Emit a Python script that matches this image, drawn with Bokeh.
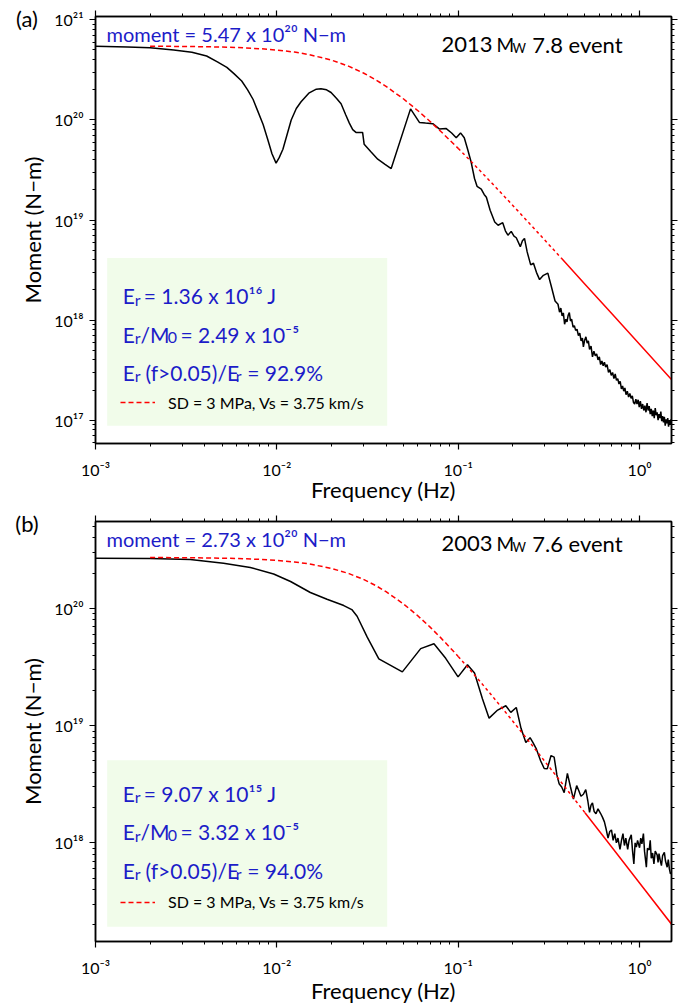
import numpy as np
from bokeh.plotting import figure
from bokeh.models import (Range1d, LogAxis, FixedTicker, CustomJSTickFormatter, Label,
                          BoxAnnotation, Legend, LegendItem)
from bokeh.core.properties import value
from bokeh.layouts import column
from bokeh.embed import file_html
from bokeh.resources import INLINE

FONT = "Lato"
BLUE = "#1c1cc8"
BOXFILL = "#f1fcea"

# ---------------- data: panel (a) 2013 Mw 7.8 ----------------
FREQ_A = [0.001, 0.0015, 0.002, 0.0027, 0.0034, 0.0041, 0.0047, 0.0053, 0.0058, 0.0064,
          0.0069, 0.0074, 0.0078, 0.0084, 0.0089, 0.0094, 0.0099, 0.0103, 0.0108, 0.0114,
          0.0120, 0.0128, 0.0136, 0.0150, 0.0165, 0.0175, 0.0188, 0.0199, 0.0213, 0.0226,
          0.0240, 0.0251, 0.0262, 0.0273, 0.0297, 0.0303, 0.0330, 0.0360, 0.0395, 0.0427,
          0.0546, 0.0611, 0.0660, 0.0724, 0.0786, 0.0859, 0.0920, 0.0975, 0.1030, 0.1080,
          0.1130, 0.1180, 0.1230, 0.1270, 0.1340, 0.1390, 0.1430, 0.1500, 0.1590, 0.1660,
          0.1760, 0.1820, 0.1880, 0.1960, 0.2030, 0.2090, 0.2200, 0.2260, 0.2320, 0.2400,
          0.2510, 0.2600, 0.2700, 0.2810, 0.2950, 0.3120, 0.3260, 0.3420,
          0.355, 0.362, 0.368, 0.374, 0.380, 0.386, 0.392, 0.398, 0.404, 0.410,
          0.416, 0.422, 0.430, 0.437, 0.444, 0.452, 0.460, 0.468, 0.476, 0.484,
          0.490, 0.498, 0.506, 0.514, 0.522, 0.530, 0.540, 0.550, 0.560, 0.570,
          0.580, 0.590, 0.600, 0.610, 0.620, 0.630, 0.640, 0.650, 0.662, 0.674,
          0.686, 0.698, 0.710, 0.722, 0.734, 0.746, 0.758, 0.770, 0.782, 0.794,
          0.806, 0.818, 0.830, 0.842, 0.856, 0.870, 0.884, 0.898, 0.912, 0.926,
          0.940, 0.954, 0.968, 0.982, 0.996, 1.010, 1.025, 1.040, 1.055, 1.070,
          1.085, 1.100, 1.115, 1.130, 1.145, 1.160, 1.175, 1.190, 1.205, 1.220,
          1.235, 1.250, 1.265, 1.280, 1.295, 1.310, 1.325, 1.340, 1.355, 1.370,
          1.385, 1.400, 1.415, 1.430, 1.445, 1.460, 1.475, 1.490, 1.500]
MOMENT_A = [5.45e20, 5.35e20, 5.25e20, 5.0e20, 4.75e20, 4.35e20, 3.8e20, 3.35e20, 2.9e20, 2.45e20,
            2.0e20, 1.6e20, 1.26e20, 9.0e19, 6.4e19, 4.6e19, 3.7e19, 4.2e19, 5.1e19, 7.2e19,
            1.0e20, 1.3e20, 1.52e20, 1.85e20, 2.03e20, 2.05e20, 2.0e20, 1.88e20, 1.65e20, 1.45e20,
            1.12e20, 9.3e19, 8.0e19, 7.5e19, 7.5e19, 5.7e19, 4.8e19, 4.05e19, 3.6e19, 3.27e19,
            1.29e20, 9.45e19, 9.3e19, 9.17e19, 8.13e19, 8.2e19, 7.4e19, 6.63e19, 7.42e19, 6.63e19,
            5.0e19, 3.75e19, 2.6e19, 2.17e19, 2.04e19, 1.8e19, 1.69e19, 1.25e19, 9.57e18, 8.87e18,
            9.4e18, 7.8e18, 7.06e18, 7.7e18, 6.9e18, 6.65e18, 5.42e18, 6.2e18, 6.55e18, 4.8e18,
            3.56e18, 3.7e18, 3.0e18, 2.54e18, 2.8e18, 2.95e18, 2.18e18, 1.55e18,
            1.44e18, 1.20e18, 1.32e18, 1.10e18, 1.18e18, 9.1e17, 1.02e18, 9.6e17, 1.12e18, 1.19e18,
            9.8e17, 1.02e18, 8.5e17, 8.8e17, 7.9e17, 8.1e17, 7.0e17, 7.4e17, 6.2e17, 6.6e17,
            5.4e17, 6.3e17, 6.8e17, 5.9e17, 6.2e17, 5.1e17, 5.5e17, 4.3e17, 4.9e17, 4.4e17,
            4.6e17, 4.0e17, 4.3e17, 3.6e17, 3.9e17, 3.5e17, 3.8e17, 3.4e17, 3.6e17, 3.0e17,
            3.2e17, 2.8e17, 3.0e17, 2.6e17, 2.9e17, 2.5e17, 2.6e17, 2.3e17, 2.45e17, 2.05e17,
            2.2e17, 1.95e17, 2.1e17, 1.8e17, 1.95e17, 1.7e17, 1.85e17, 1.65e17, 1.75e17, 1.5e17,
            1.45e17, 1.62e17, 1.45e17, 1.6e17, 1.35e17, 1.55e17, 1.3e17, 1.45e17, 1.25e17, 1.4e17,
            1.2e17, 1.48e17, 1.25e17, 1.38e17, 1.15e17, 1.3e17, 1.1e17, 1.25e17, 1.05e17, 1.32e17,
            1.12e17, 1.2e17, 1.0e17, 1.15e17, 1.05e17, 1.22e17, 9.8e16, 1.1e17, 9.5e16, 1.08e17,
            8.8e16, 1.02e17, 9.3e16, 1.05e17, 8.6e16, 1.0e17, 9.0e16, 1.02e17, 9.5e16]

# model spectrum (SD = 3 MPa, Vs = 3.75 km/s)
RED_F = [0.002, 0.003, 0.004, 0.005, 0.006, 0.008, 0.010, 0.0125, 0.015, 0.020,
         0.025, 0.030, 0.035, 0.040, 0.050, 0.060, 0.070, 0.080, 0.100, 0.120,
         0.150, 0.200, 0.250, 0.300, 0.370, 0.500, 0.700, 1.000, 1.500]
RED_M_A = [5.449e20, 5.424e20, 5.388e20, 5.343e20, 5.289e20, 5.156e20, 4.994e20, 4.761e20, 4.505e20, 3.961e20,
           3.429e20, 2.945e20, 2.524e20, 2.167e20, 1.618e20, 1.235e20, 9.651e19, 7.708e19, 5.197e19, 3.717e19,
           2.438e19, 1.399e19, 9.036e18, 6.307e18, 4.163e18, 2.287e18, 1.169e18, 5.736e17, 2.551e17]

# ---------------- data: panel (b) 2003 Mw 7.6 ----------------
FREQ_B = [0.001, 0.002, 0.00333, 0.00508, 0.00714, 0.0096, 0.0119, 0.0153, 0.0189, 0.0234,
          0.0259, 0.0277, 0.0315, 0.0365, 0.0492, 0.0621, 0.0735, 0.0853, 0.0998, 0.1125,
          0.123, 0.136, 0.148, 0.165, 0.183, 0.195, 0.209, 0.222, 0.236, 0.249,
          0.258, 0.270, 0.285, 0.298, 0.310, 0.325, 0.338, 0.350, 0.360, 0.372,
          0.384, 0.400, 0.416, 0.432, 0.450, 0.462, 0.475, 0.490, 0.505, 0.518,
          0.530, 0.540, 0.550, 0.562, 0.575, 0.590, 0.610, 0.625, 0.640, 0.655,
          0.670, 0.685, 0.700, 0.715, 0.730, 0.745, 0.760, 0.780, 0.795, 0.810,
          0.825, 0.840, 0.860, 0.875, 0.900, 0.915, 0.930, 0.945, 0.960, 0.975,
          1.000, 1.015, 1.030, 1.050, 1.065, 1.090, 1.105, 1.130, 1.145, 1.160,
          1.180, 1.200, 1.220, 1.250, 1.265, 1.280, 1.300, 1.320, 1.340, 1.370,
          1.390, 1.420, 1.440, 1.460, 1.480, 1.500]
MOMENT_B = [2.68e20, 2.67e20, 2.62e20, 2.43e20, 2.24e20, 1.97e20, 1.70e20, 1.37e20, 1.20e20, 1.06e20,
            9.8e19, 8.6e19, 5.7e19, 3.72e19, 2.88e19, 4.55e19, 5.0e19, 3.76e19, 2.61e19, 3.31e19,
            2.82e19, 1.70e19, 1.16e19, 1.36e19, 1.48e19, 1.30e19, 1.43e19, 9.5e18, 7.18e18, 7.9e18,
            7.2e18, 6.3e18, 5.0e18, 4.31e18, 4.3e18, 5.56e18, 5.4e18, 3.8e18, 3.2e18, 3.0e18,
            2.68e18, 3.92e18, 3.0e18, 2.36e18, 3.08e18, 2.8e18, 2.5e18, 2.6e18, 2.85e18, 2.3e18,
            1.82e18, 2.1e18, 2.19e18, 1.85e18, 1.77e18, 1.95e18, 1.78e18, 1.65e18, 1.51e18, 1.3e18,
            1.1e18, 1.25e18, 1.29e18, 1.05e18, 1.2e18, 1.0e18, 1.1e18, 8.8e17, 1.05e18, 1.2e18,
            9.5e17, 1.1e18, 8.8e17, 1.05e18, 1.17e18, 8.5e17, 6.6e17, 1.0e18, 9.2e17, 1.05e18,
            9.1e17, 1.1e18, 9.8e17, 1.2e18, 8.5e17, 6.2e17, 9.0e17, 8.7e17, 1.05e18, 7.4e17,
            8.2e17, 6.6e17, 8.5e17, 7.9e17, 6.8e17, 8.1e17, 7.1e17, 6.4e17, 7.8e17, 8.3e17,
            7.0e17, 6.2e17, 7.2e17, 6.0e17, 5.45e17, 5.6e17]
RED_M_B = [2.7235e20, 2.715e20, 2.704e20, 2.690e20, 2.672e20, 2.629e20, 2.576e20, 2.496e20, 2.406e20, 2.202e20,
           1.986e20, 1.774e20, 1.574e20, 1.394e20, 1.093e20, 8.646e19, 6.935e19, 5.646e19, 3.904e19, 2.835e19,
           1.885e19, 1.093e19, 7.099e18, 4.970e18, 3.288e18, 1.810e18, 9.265e17, 4.548e17, 2.023e17]

X_RANGE = (1e-3, 1.5)
Y_RANGE_A = (5.85e16, 1.08e21)
Y_RANGE_B = (1.44e17, 5.53e20)

MAJOR_X = [1e-3, 1e-2, 1e-1, 1.0]
MINOR_X = [k * 10.0 ** d for d in range(-3, 1) for k in range(2, 10)]
MAJOR_Y = [10.0 ** e for e in range(16, 22)]
MINOR_Y = [k * 10.0 ** d for d in range(16, 21) for k in range(2, 10)]

LEGEND_TEXT = "SD = 3 MPa, Vs = 3.75 km/s"

SUP_JS = """
const m = {"-":"\u207b","0":"\u2070","1":"\u00b9","2":"\u00b2","3":"\u00b3","4":"\u2074",
           "5":"\u2075","6":"\u2076","7":"\u2077","8":"\u2078","9":"\u2079"};
const e = Math.round(Math.log10(tick));
return "10" + String(e).split("").map(c => m[c]).join("");
"""


def style_axis(ax, labels=True):
    ax.axis_line_width = 1.5
    ax.axis_line_color = "black"
    ax.major_tick_out = 6
    ax.major_tick_in = 0
    ax.minor_tick_out = 3
    ax.minor_tick_in = 0
    ax.major_tick_line_width = 1.2
    ax.minor_tick_line_width = 1
    ax.major_tick_line_color = "black"
    ax.minor_tick_line_color = "black"
    if labels:
        ax.major_label_text_font = FONT
        ax.major_label_text_font_size = "16px"
        ax.major_label_text_color = "black"
        ax.axis_label_text_font = FONT
        ax.axis_label_text_font_size = "22px"
        ax.axis_label_text_font_style = "normal"
        ax.axis_label_text_color = "black"
    else:
        ax.major_label_text_font_size = "1px"
        ax.major_label_text_alpha = 0.0
        ax.major_label_standoff = 0


def label(p, fh, s, dx, dy, size, color="black", baseline="alphabetic", align="left"):
    p.add_layout(Label(x=dx, y=fh - dy, x_units="screen", y_units="screen", text=s,
                       text_font=FONT, text_font_size=f"{size}px", text_color=color,
                       text_align=align, text_baseline=baseline))


def make_panel(cfg):
    fh = 432
    yr = cfg["yrange"]
    p = figure(width=682, height=cfg["height"], x_axis_type="log", y_axis_type="log",
               x_range=Range1d(*X_RANGE), y_range=Range1d(*yr),
               output_backend="svg", toolbar_location=None,
               min_border_left=95, min_border_right=11,
               min_border_top=16, min_border_bottom=cfg["height"] - 16 - fh)
    p.grid.visible = False
    p.outline_line_color = "black"
    p.outline_line_width = 1.5
    p.background_fill_color = "white"
    p.border_fill_color = "white"

    fmt = CustomJSTickFormatter(code=SUP_JS)
    p.xaxis.ticker = FixedTicker(ticks=MAJOR_X, minor_ticks=MINOR_X)
    p.yaxis.ticker = FixedTicker(ticks=MAJOR_Y, minor_ticks=MINOR_Y)
    p.xaxis.formatter = fmt
    p.yaxis.formatter = fmt
    p.xaxis.axis_label = "Frequency (Hz)"
    p.yaxis.axis_label = "Moment (N\u2212m)"
    for ax in p.xaxis + p.yaxis:
        style_axis(ax)
    p.xaxis.major_label_standoff = 10
    p.xaxis.axis_label_standoff = cfg["xlab_standoff"]
    p.yaxis.major_label_standoff = 6
    p.yaxis.axis_label_standoff = 5

    top = LogAxis(ticker=FixedTicker(ticks=MAJOR_X, minor_ticks=MINOR_X))
    style_axis(top, labels=False)
    p.add_layout(top, "above")
    right = LogAxis(ticker=FixedTicker(ticks=MAJOR_Y, minor_ticks=MINOR_Y))
    style_axis(right, labels=False)
    p.add_layout(right, "right")

    # info box
    p.add_layout(BoxAnnotation(left=11.7, right=291.7, top=fh - cfg["box_top"], bottom=fh - cfg["box_bot"],
                               left_units="screen", right_units="screen",
                               top_units="screen", bottom_units="screen",
                               fill_color=BOXFILL, fill_alpha=1.0, line_alpha=0.0, level="underlay"))

    # observed spectrum
    p.line(cfg["freq"], cfg["mom"], line_color="black", line_width=1.5)

    # model spectrum
    rf = np.array(RED_F)
    rm = np.array(cfg["red"])
    s1 = rf <= 0.1
    s2 = (rf >= 0.1) & (rf <= cfg["solid_from"])
    s3 = rf >= cfg["solid_from"]
    r1 = p.line(rf[s1], rm[s1], line_color="red", line_width=1.5, line_dash="5 3")
    p.line(rf[s2], rm[s2], line_color="red", line_width=1.5, line_dash="3 3")
    p.line(rf[s3], rm[s3], line_color="red", line_width=1.5)

    leg = Legend(items=[LegendItem(label=value(LEGEND_TEXT), renderers=[r1])],
                 location=(23, fh - cfg["leg_y"] - 10), background_fill_alpha=0.0,
                 border_line_alpha=0.0, padding=2, margin=0, spacing=0,
                 glyph_width=35, glyph_height=16, label_height=16, label_standoff=13,
                 label_text_font=FONT, label_text_font_size="16px", label_text_color="black")
    p.add_layout(leg)

    # panel tag, drawn at the top-left corner of the frame, shifted into the margin
    p.text(x=[X_RANGE[0]], y=[yr[1]], text=[cfg["tag"]], x_offset=-68.5, y_offset=2.3,
           text_align="center", text_baseline="middle", text_font=value(FONT),
           text_font_size=value("22px"), text_color="black", level="overlay")

    # texts
    label(p, fh, cfg["moment"], 11, cfg["moment_dy"], 20, color=BLUE)
    tdy = cfg["title_dy"]
    label(p, fh, cfg["year"], 346, tdy, 22)
    label(p, fh, "M", 401, tdy, 19)
    label(p, fh, "W", 417.0, tdy + 3.4, 13)
    label(p, fh, cfg["mag"], 436.7, tdy, 22)

    l1, l2, l3 = cfg["lines"]
    for (dy, pieces) in ((l1, cfg["line1"]), (l2, cfg["line2"]), (l3, cfg["line3"])):
        for s, dx, sub in pieces:
            if sub:
                label(p, fh, s, dx, dy + 3.4, 16, color=BLUE)
            else:
                label(p, fh, s, dx, dy, 21, color=BLUE)
    return p


cfg_a = dict(tag="(a)", height=505, yrange=Y_RANGE_A, xlab_standoff=-6,
             freq=FREQ_A, mom=MOMENT_A, red=RED_M_A, solid_from=0.37,
             box_top=246.6, box_bot=414.3, leg_y=392.6,
             moment="moment = 5.47 x 10\u00b2\u2070 N\u2212m", moment_dy=22.6,
             year="2013", mag="7.8 event", title_dy=32.6,
             lines=(284.3, 322.6, 361.0),
             line1=[("E", 27.3, False), ("r", 39.3, True), ("= 1.36 x 10\u00b9\u2076 J", 48.3, False)],
             line2=[("E", 27.3, False), ("r", 39.3, True), ("/M", 45.0, False), ("0", 72.3, True),
                    ("= 2.49 x 10\u207b\u2075", 85.0, False)],
             line3=[("E", 27.3, False), ("r", 39.3, True), ("(f>0.05)/E", 50.0, False),
                    ("r", 140.3, True), ("= 92.9%", 151.7, False)])

cfg_b = dict(tag="(b)", height=501, yrange=Y_RANGE_B, xlab_standoff=-3,
             freq=FREQ_B, mom=MOMENT_B, red=RED_M_B, solid_from=0.5,
             box_top=250.7, box_bot=417.3, leg_y=394.0,
             moment="moment = 2.73 x 10\u00b2\u2070 N\u2212m", moment_dy=29.0,
             year="2003", mag="7.6 event", title_dy=34.0,
             lines=(284.0, 322.3, 360.7),
             line1=[("E", 27.3, False), ("r", 39.3, True), ("= 9.07 x 10\u00b9\u2075 J", 48.3, False)],
             line2=[("E", 27.3, False), ("r", 39.3, True), ("/M", 45.0, False), ("0", 72.3, True),
                    ("= 3.32 x 10\u207b\u2075", 85.0, False)],
             line3=[("E", 27.3, False), ("r", 39.3, True), ("(f>0.05)/E", 50.0, False),
                    ("r", 140.3, True), ("= 94.0%", 151.7, False)])

p1 = make_panel(cfg_a)
p2 = make_panel(cfg_b)
layout = column(p1, p2, spacing=0)

open("out.html", "w").write(file_html(layout, INLINE))
